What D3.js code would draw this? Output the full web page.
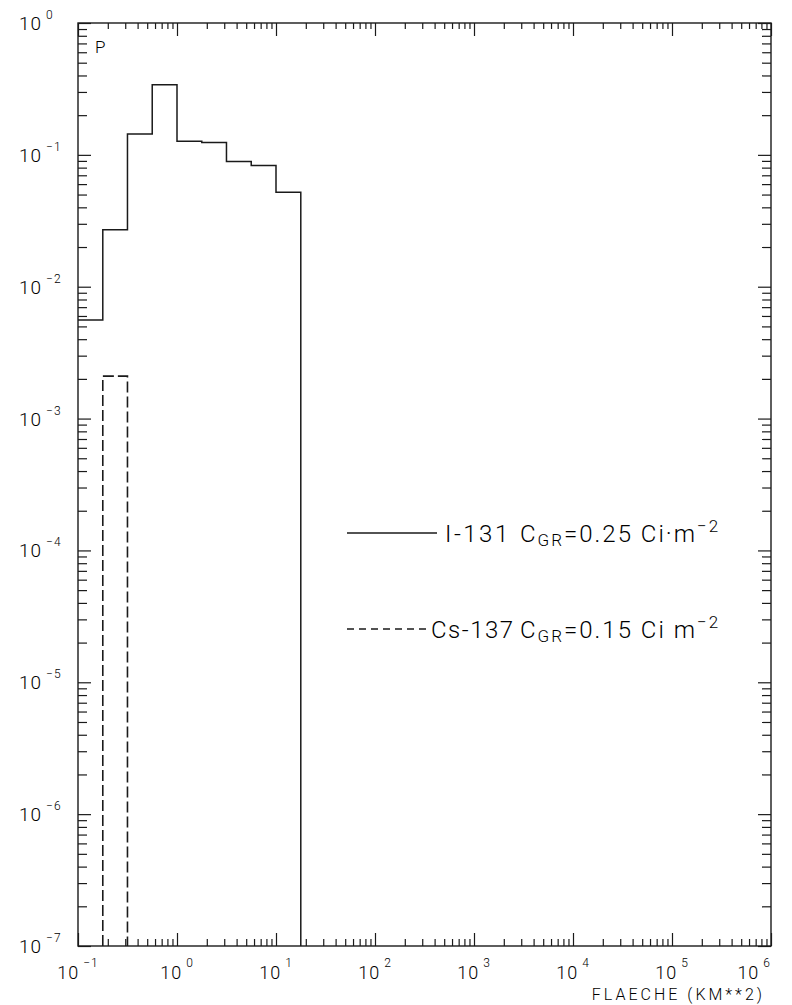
<!DOCTYPE html>
<html>
<head>
<meta charset="utf-8">
<script src="https://cdn.jsdelivr.net/npm/d3@7"></script>
<style>
  body { margin: 0; background: #fff; }
  svg { display: block; }
  text { font-family: Roboto, "DejaVu Sans", sans-serif; font-weight: 300; fill: #000; }
</style>
</head>
<body>
<svg id="chart" width="792" height="1005"></svg>
<script>
// Histogram bin edges (km²) and probabilities
const binEdges = [0.1, 0.178, 0.316, 0.562, 1, 1.78, 3.16, 5.62, 10, 17.8];
const i131Values = [0.0056, 0.027, 0.144, 0.34, 0.127, 0.124, 0.089, 0.083, 0.052];
const cs137Edges = [0.178, 0.316];
const cs137Values = [0.0021];

// Axis decades (exponents of 10)
const xExponents = [-1, 0, 1, 2, 3, 4, 5, 6];
const yExponents = [0, -1, -2, -3, -4, -5, -6, -7];

const legendItems = [
  { name: "I-131", value: "0.25", unit: "Ci\u00b7m", dashed: false },
  { name: "Cs-137", value: "0.15", unit: "Ci m", dashed: true }
];

const ink = "#1a1a1a";
const m = { left: 78, top: 23, right: 771, bottom: 946 };
const svg = d3.select("#chart");

const x = d3.scaleLog().domain([1e-1, 1e6]).range([m.left, m.right]);
const y = d3.scaleLog().domain([1e-7, 1]).range([m.bottom, m.top]);

const isMajor = v => Math.abs(Math.log10(v) - Math.round(Math.log10(v))) < 1e-9;

// Frame
svg.append("rect")
  .attr("x", m.left).attr("y", m.top)
  .attr("width", m.right - m.left).attr("height", m.bottom - m.top)
  .attr("fill", "none").attr("stroke", ink).attr("stroke-width", 1.4);

// Inward ticks on all four sides
function styleAxis(g, attr, sign, major, minor) {
  g.select(".domain").remove();
  g.selectAll(".tick text").remove();
  g.selectAll(".tick line")
    .attr("stroke", ink).attr("stroke-width", 1.2)
    .attr(attr, d => sign * (isMajor(d) ? major : minor));
}
const xt = x.ticks();
const yt = y.ticks();
svg.append("g").attr("transform", `translate(0,${m.bottom})`)
  .call(d3.axisBottom(x).tickValues(xt).tickFormat(""))
  .call(g => styleAxis(g, "y2", -1, 13, 7));
svg.append("g").attr("transform", `translate(0,${m.top})`)
  .call(d3.axisTop(x).tickValues(xt).tickFormat(""))
  .call(g => styleAxis(g, "y2", 1, 13, 6));
svg.append("g").attr("transform", `translate(${m.left},0)`)
  .call(d3.axisLeft(y).tickValues(yt).tickFormat(""))
  .call(g => styleAxis(g, "x2", 1, 13, 9));
svg.append("g").attr("transform", `translate(${m.right},0)`)
  .call(d3.axisRight(y).tickValues(yt).tickFormat(""))
  .call(g => styleAxis(g, "x2", -1, 13, 9));

// Y tick labels
yExponents.forEach(e => {
  const t = svg.append("text")
    .attr("x", 19).attr("y", y(10 ** e) + 7)
    .style("font-size", "19px").style("letter-spacing", "1px");
  t.append("tspan").text("10");
  t.append("tspan").attr("dx", 4).attr("dy", -11)
    .style("font-size", "12px").text(e === 0 ? "0" : "\u2212" + (-e));
});

// X tick labels
xExponents.forEach((e, i) => {
  const last = i === xExponents.length - 1;
  const t = svg.append("text")
    .attr("x", last ? m.right : x(10 ** e)).attr("y", 979)
    .attr("text-anchor", last ? "end" : "middle")
    .style("font-size", "18px").style("letter-spacing", "1px");
  t.append("tspan").text("10");
  t.append("tspan").attr("dx", 4).attr("dy", -12)
    .style("font-size", "12px").text(e < 0 ? "\u2212" + (-e) : String(e));
});

// Axis titles
svg.append("text").attr("x", 765).attr("y", 1000).attr("text-anchor", "end")
  .style("font-size", "16px").style("letter-spacing", "3px")
  .text("FLAECHE (KM**2)");
svg.append("text").attr("x", 95).attr("y", 53)
  .style("font-size", "17px").text("P");

// I-131 histogram (solid step outline)
const i131Pts = [];
i131Values.forEach((v, i) => {
  i131Pts.push([binEdges[i], v], [binEdges[i + 1], v]);
});
i131Pts.push([binEdges[binEdges.length - 1], 1e-7]);
const line = d3.line().x(d => x(d[0])).y(d => y(d[1]));
svg.append("path").attr("d", line(i131Pts))
  .attr("fill", "none").attr("stroke", ink).attr("stroke-width", 1.5);

// Cs-137 histogram (dashed bar outline)
const csPts = [[cs137Edges[0], 1e-7]];
cs137Values.forEach((v, i) => {
  csPts.push([cs137Edges[i], v], [cs137Edges[i + 1], v]);
});
csPts.push([cs137Edges[cs137Edges.length - 1], 1e-7]);
svg.append("path").attr("d", line(csPts))
  .attr("fill", "none").attr("stroke", ink).attr("stroke-width", 1.6)
  .attr("stroke-dasharray", "11,4");

// Legend
const legendY = [533, 629];
legendItems.forEach((d, i) => {
  const ly = legendY[i];
  svg.append("line")
    .attr("x1", 347).attr("x2", d.dashed ? 428 : 437)
    .attr("y1", ly).attr("y2", ly)
    .attr("stroke", ink).attr("stroke-width", 1.3)
    .attr("stroke-dasharray", d.dashed ? "7,5" : null);
  svg.append("text").attr("x", d.dashed ? 431 : 445).attr("y", ly + 9)
    .style("font-size", "24px").style("letter-spacing", d.dashed ? "1.5px" : "2.5px")
    .text(d.name);
  const t = svg.append("text").attr("x", 520).attr("y", ly + 9)
    .style("font-size", "24px").style("letter-spacing", "2px");
  t.append("tspan").text("C");
  t.append("tspan").attr("dy", 4).style("font-size", "17px").text("GR");
  t.append("tspan").attr("dy", -4).text("=" + d.value + " " + d.unit);
  t.append("tspan").attr("dy", -10).style("font-size", "17px").text("\u22122");
});
</script>
</body>
</html>
